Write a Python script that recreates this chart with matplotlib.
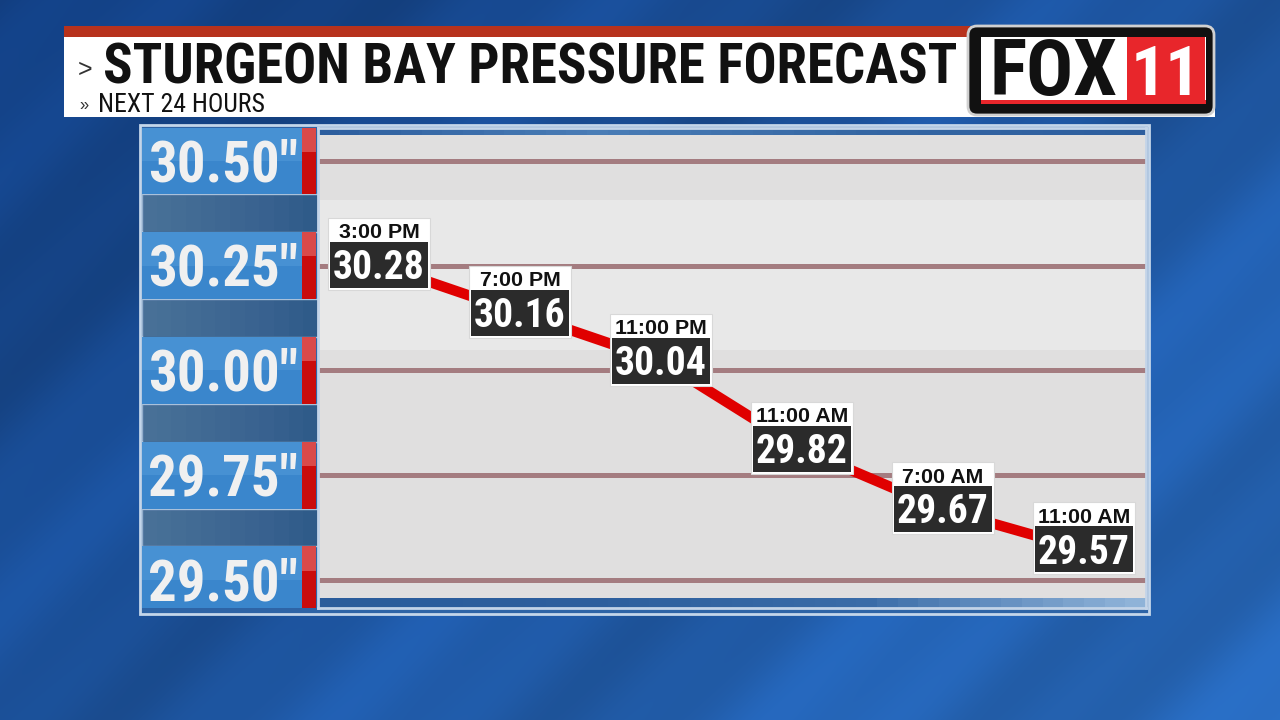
import numpy as np
import matplotlib
matplotlib.use('Agg')
import matplotlib.pyplot as plt
from matplotlib import patches, transforms
from matplotlib import font_manager as fm
from matplotlib.font_manager import FontProperties

# ---------------- data ----------------
times = ["3:00 PM", "7:00 PM", "11:00 PM", "11:00 AM", "7:00 AM", "11:00 AM"]
pressure = [30.28, 30.16, 30.04, 29.82, 29.67, 29.57]
tick_values = [29.50, 29.75, 30.00, 30.25, 30.50]
tick_labels = ['29.50"', '29.75"', '30.00"', '30.25"', '30.50"']
title = "STURGEON BAY PRESSURE FORECAST"
subtitle = "NEXT 24 HOURS"

available = {f.name for f in fm.fontManager.ttflist}
narrow_pref = ['Roboto Condensed', 'Liberation Sans Narrow', 'Open Sans Condensed',
               'DejaVu Sans Condensed', 'Roboto', 'Liberation Sans', 'DejaVu Sans']
NARROW = [f for f in narrow_pref if f in available][:1] + ['DejaVu Sans']
ARIAL = ['Liberation Sans', 'DejaVu Sans']

W, H = 1280, 720
fig = plt.figure(figsize=(12.8, 7.2), dpi=100)
renderer = fig.canvas.get_renderer()


def fit(s, fam, weight, size, max_w):
    prop = FontProperties(family=fam, weight=weight, size=size)
    w, h, d = renderer.get_text_width_height_descent(s, prop, ismath=False)
    return size if w <= max_w else size * max_w / w


def fx(px):
    return px / W


def fy(py):
    return 1 - py / H


# ---------------- background ----------------
bg = fig.add_axes([0, 0, 1, 1], zorder=0)
yy, xx = np.mgrid[0:H, 0:W].astype(float)
t = np.clip(0.55 * xx / W + 0.45 * yy / H, 0, 1)
c1 = np.array([0x12, 0x3e, 0x80]) / 255
c2 = np.array([0x28, 0x6a, 0xbd]) / 255
img = c1[None, None, :] * (1 - t[..., None]) + c2[None, None, :] * t[..., None]
stripes = 0.07 * np.sin((xx + yy) / 75.0) + 0.03 * np.sin((xx + yy) / 23.0)
img = np.clip(img * (1 + stripes[..., None]), 0, 1)
bg.imshow(img, extent=[0, W, H, 0], aspect='auto', interpolation='bilinear')
bg.set_xlim(0, W)
bg.set_ylim(H, 0)
bg.axis('off')

# title banner
bg.add_patch(patches.Rectangle((64, 26), 930, 11, color='#b7321c', lw=0))
bg.add_patch(patches.Rectangle((64, 37), 1151, 80, color='white', lw=0))
bg.text(78, 77, '>', fontfamily=ARIAL, fontsize=18, color='#333333', va='baseline')
bg.text(103, 83, title, fontfamily=NARROW, fontweight='bold',
        fontsize=fit(title, NARROW, 'bold', 41, 856),
        va='baseline', ha='left', color='#111111')
bg.text(79, 110, '»', fontfamily=ARIAL, fontsize=12, color='#333333', va='baseline')
bg.text(98, 112, subtitle, fontfamily=NARROW,
        fontsize=fit(subtitle, NARROW, 'normal', 18.5, 195), va='baseline',
        ha='left', color='#111111')

# logo
bg.add_patch(patches.FancyBboxPatch((970, 28), 242, 85,
                                    boxstyle='round,pad=2,rounding_size=9',
                                    fc='#111111', ec='#d0d0d0', lw=2))
bg.add_patch(patches.Rectangle((981, 37), 225, 63, fc='white', lw=0))
bg.add_patch(patches.Rectangle((1127, 37), 78, 65, fc='#e8262b', lw=0))
bg.add_patch(patches.Rectangle((981, 100), 225, 3.5, fc='#e8262b', lw=0))
bg.text(1053, 95, 'FOX', fontfamily=NARROW, fontweight='heavy',
        fontsize=fit('FOX', NARROW, 'heavy', 60, 128),
        ha='center', va='baseline', color='#111111')
bg.text(1166, 95, '11', fontfamily=NARROW, fontweight='heavy',
        fontsize=fit('11', NARROW, 'heavy', 60, 70),
        ha='center', va='baseline', color='white')

# frame behind the chart
bg.add_patch(patches.Rectangle((140, 125), 1009, 489, fc='#2e64a6', ec='#c4d6ea', lw=2))

# ---------------- grid axes ----------------
top_px, bot_px = 128, 608
left_px, right_px = 318, 1146
rect = [fx(left_px), fy(bot_px), (right_px - left_px) / W, (bot_px - top_px) / H]
ax = fig.add_axes(rect, zorder=2)
ppu = 419.0  # pixels per inch of mercury for the grid
ax.set_ylim(29.50 - (bot_px - 580) / ppu, 30.50 + (161 - top_px) / ppu)
step = 141.0
ax.set_xlim(-(379 - left_px) / step, (right_px - 379) / step)
ax.set_facecolor('#e0dfdf')
ph = bot_px - top_px
ax.add_patch(patches.Rectangle((0, (bot_px - 350) / ph), 1, 150 / ph, transform=ax.transAxes,
                               fc='#e8e8e8', lw=0, zorder=0))
# bottom and top blue strips with a soft gradient
n = 40
bot_cols = plt.matplotlib.colors.LinearSegmentedColormap.from_list(
    'b', ['#2a5c9b', '#2d5f9d', '#3a6ca8', '#8fb3d8'])
top_cols = plt.matplotlib.colors.LinearSegmentedColormap.from_list(
    't', ['#2d5e9e', '#4a7db6', '#3466a3', '#2d5e9e'])
for k in range(n):
    ax.add_patch(patches.Rectangle((k / n, 0), 1 / n + 0.001, 10 / ph, transform=ax.transAxes,
                                   fc=bot_cols(k / (n - 1)), lw=0, zorder=0.6))
    ax.add_patch(patches.Rectangle((k / n, 1 - 7 / ph), 1 / n + 0.001, 7 / ph,
                                   transform=ax.transAxes, fc=top_cols(k / (n - 1)),
                                   lw=0, zorder=0.6))
ax.set_yticks(tick_values)
ax.set_xticks([])
ax.grid(axis='y', color='#a47c80', lw=3.6)
ax.set_axisbelow(True)
ax.tick_params(left=False, labelleft=False, bottom=False, labelbottom=False)
for s in ax.spines.values():
    s.set_color('#c3d4e8')
    s.set_linewidth(2)

# ---------------- data axes (overlay) ----------------
dax = fig.add_axes(rect, sharex=ax, zorder=3)
dax.patch.set_visible(False)
dax.axis('off')
dppu = 401.0
dax.set_ylim(30.00 - (bot_px - 377) / dppu, 30.00 + (377 - top_px) / dppu)

xs = np.arange(len(pressure))
dax.plot(xs, pressure, color='#e00000', lw=7.5, solid_capstyle='butt', zorder=3)

val_size = min(fit(f"{p:.2f}", NARROW, 'bold', 42, 92) for p in pressure)
time_size = min(fit(tm, ARIAL, 'bold', 15.5, 92) for tm in times)
val_cap = val_size * 0.71 / 72.0
time_cap = time_size * 0.72 / 72.0
for i, (tm, p) in enumerate(zip(times, pressure)):
    tr = fig.dpi_scale_trans + transforms.ScaledTranslation(i, p, dax.transData)
    dax.add_patch(patches.Rectangle((-0.51, -0.25), 1.02, 0.72, transform=tr,
                                    fc='white', ec='#d8d8d8', lw=0.8, zorder=4, clip_on=False))
    dax.add_patch(patches.Rectangle((-0.49, -0.23), 0.98, 0.46, transform=tr,
                                    fc='#2b2b2b', lw=0, zorder=5, clip_on=False))
    dax.text(0, -val_cap / 2, f"{p:.2f}", transform=tr, ha='center', va='baseline',
             fontfamily=NARROW, fontweight='bold', fontsize=val_size, color='white',
             zorder=6, clip_on=False)
    dax.text(0, 0.345 - time_cap / 2, tm, transform=tr, ha='center', va='baseline',
             fontfamily=ARIAL, fontweight='bold', fontsize=time_size, color='#111111',
             zorder=6, clip_on=False)

# ---------------- left tick panel ----------------
lax = fig.add_axes([fx(140), fy(bot_px), 178 / W, (bot_px - top_px) / H],
                   sharey=ax, zorder=1)
lax.set_xlim(0, 178)
lax.axis('off')
bh = 67 / ppu
mids = [(a + b) / 2 for a, b in zip(tick_values[:-1], tick_values[1:])]
lax.barh(mids, 176, left=2, height=0.25 - bh, color='#2c5987', edgecolor='#a9c1db', lw=1)
for k in range(12):
    lax.barh(mids, 176 * (1 - k / 12), left=2, height=0.25 - bh - 0.004,
             color='#7d9cbc', alpha=0.045, lw=0)
lax.barh(tick_values, 160, left=2, height=bh, color='#3a86cc', lw=0)
lax.barh([v + bh / 4 for v in tick_values], 160, left=2, height=bh / 2, color='#4791d3', lw=0)
lax.barh(tick_values, 14, left=162, height=bh, color='#c90c0c', lw=0)
lax.barh([v + bh * 0.32 for v in tick_values], 14, left=162, height=bh * 0.36,
         color='#d94a4a', lw=0)
tick_size = min(fit(lab, NARROW, 'bold', 43, 150) for lab in tick_labels)
tick_cap_pt = tick_size * 0.71
toff = transforms.offset_copy(lax.transData, fig=fig, y=-tick_cap_pt / 2, units='points')
for v, lab in zip(tick_values, tick_labels):
    lax.text(83, v, lab, transform=toff, ha='center', va='baseline',
             fontfamily=NARROW, fontweight='bold', fontsize=tick_size, color='#f0f0f0')

fig.savefig('out.png', dpi=100)
